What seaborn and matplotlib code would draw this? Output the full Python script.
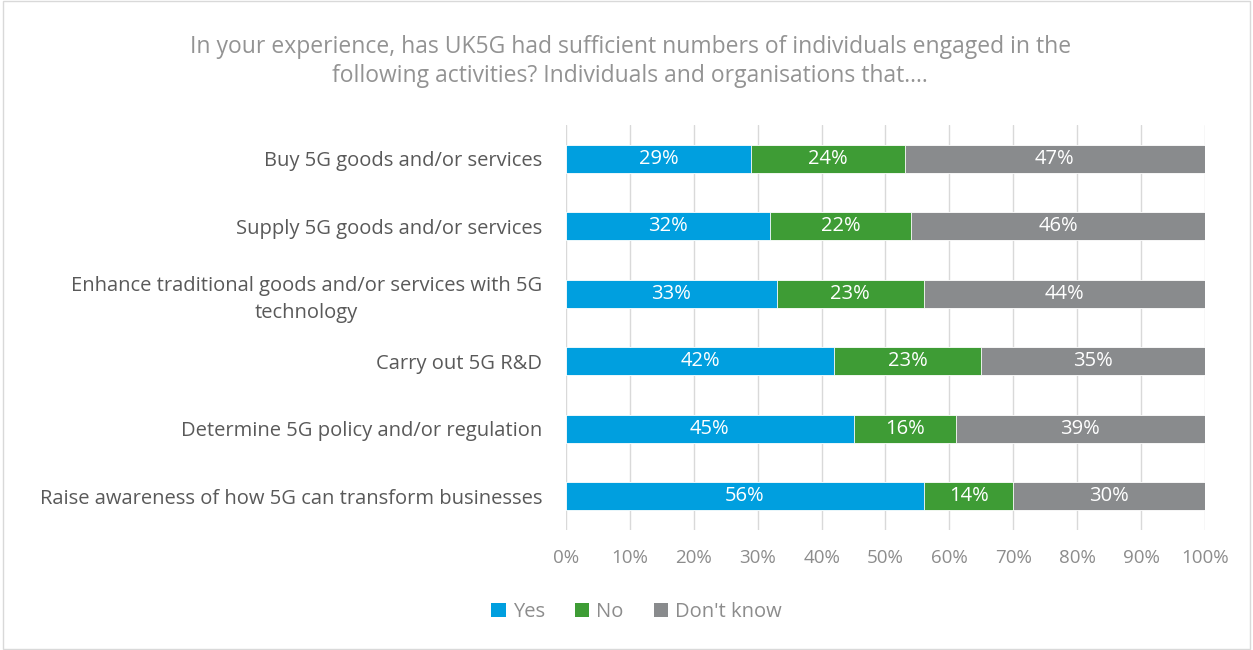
import matplotlib
matplotlib.use("Agg")
import matplotlib.pyplot as plt
import seaborn as sns
import pandas as pd
from matplotlib.patches import Patch, Rectangle

categories = [
    "Buy 5G goods and/or services",
    "Supply 5G goods and/or services",
    "Enhance traditional goods and/or services with 5G\ntechnology",
    "Carry out 5G R&D",
    "Determine 5G policy and/or regulation",
    "Raise awareness of how 5G can transform businesses",
]
yes = [29, 32, 33, 42, 45, 56]
no = [24, 22, 23, 23, 16, 14]
dont_know = [47, 46, 44, 35, 39, 30]

series_names = ["Yes", "No", "Don't know"]
colors = ["#009FDF", "#3E9C35", "#898B8D"]
tick_color = "#8C8C8C"
label_color = "#595959"

sns.set_style("white")
plt.rcParams["font.family"] = ["Open Sans", "DejaVu Sans"]

df = pd.DataFrame({"cat": categories, "Yes": yes, "No": no, "Don't know": dont_know})
df["cum_no"] = df["Yes"] + df["No"]
df["cum_dk"] = df["cum_no"] + df["Don't know"]

fig = plt.figure(figsize=(12.53, 6.5), dpi=100)
ax = fig.add_axes([0.4517, 0.1846, 0.5100, 0.6231])

bw = 0.42
for col, c in zip(["cum_dk", "cum_no", "Yes"], colors[::-1]):
    sns.barplot(data=df, x=col, y="cat", orient="h", color=c, width=bw,
                saturation=1, ax=ax, edgecolor="white", linewidth=0.6, zorder=3)

# labels in the centre of each segment
for i in range(len(categories)):
    left = 0
    for vals in (yes, no, dont_know):
        v = vals[i]
        ax.text(left + v / 2, i, f"{v}%", ha="center", va="center",
                color="white", fontsize=14.5, zorder=4)
        left += v

ax.set_xlim(0, 100)
ax.set_ylim(len(categories) - 0.5, -0.5)
ax.set_xticks(range(0, 101, 10))
ax.set_xticklabels([f"{t}%" for t in range(0, 101, 10)])
ax.grid(axis="x", color="#D9D9D9", linewidth=1, zorder=0)
ax.set_axisbelow(True)
for s in ax.spines.values():
    s.set_visible(False)
ax.set_xlabel("")
ax.set_ylabel("")
ax.tick_params(axis="x", colors=tick_color, labelsize=13.5, length=0, pad=14)
ax.tick_params(axis="y", colors=label_color, labelsize=14.5, length=0, pad=17)
for t in ax.get_yticklabels():
    t.set_color(label_color)
    t.set_horizontalalignment("right")
    t.set_multialignment("center")
    t.set_linespacing(1.45)

fig.text(0.503, 0.905,
         "In your experience, has UK5G had sufficient numbers of individuals engaged in the\n"
         "following activities? Individuals and organisations that....",
         ha="center", va="center", fontsize=16.5, color="#939393", linespacing=1.3)

handles = [Patch(facecolor=c, edgecolor="none") for c in colors]
leg = fig.legend(handles, series_names, loc="center", bbox_to_anchor=(0.508, 0.058),
                 ncol=3, frameon=False, fontsize=14.5, handlelength=0.7, handleheight=0.7,
                 handletextpad=0.35, columnspacing=1.5)
for t in leg.get_texts():
    t.set_color(tick_color)

fig.patches.append(Rectangle((0.002, 0.002), 0.996, 0.996, transform=fig.transFigure,
                             fill=False, edgecolor="#D9D9D9", linewidth=1))

fig.savefig("out.png", dpi=100)
